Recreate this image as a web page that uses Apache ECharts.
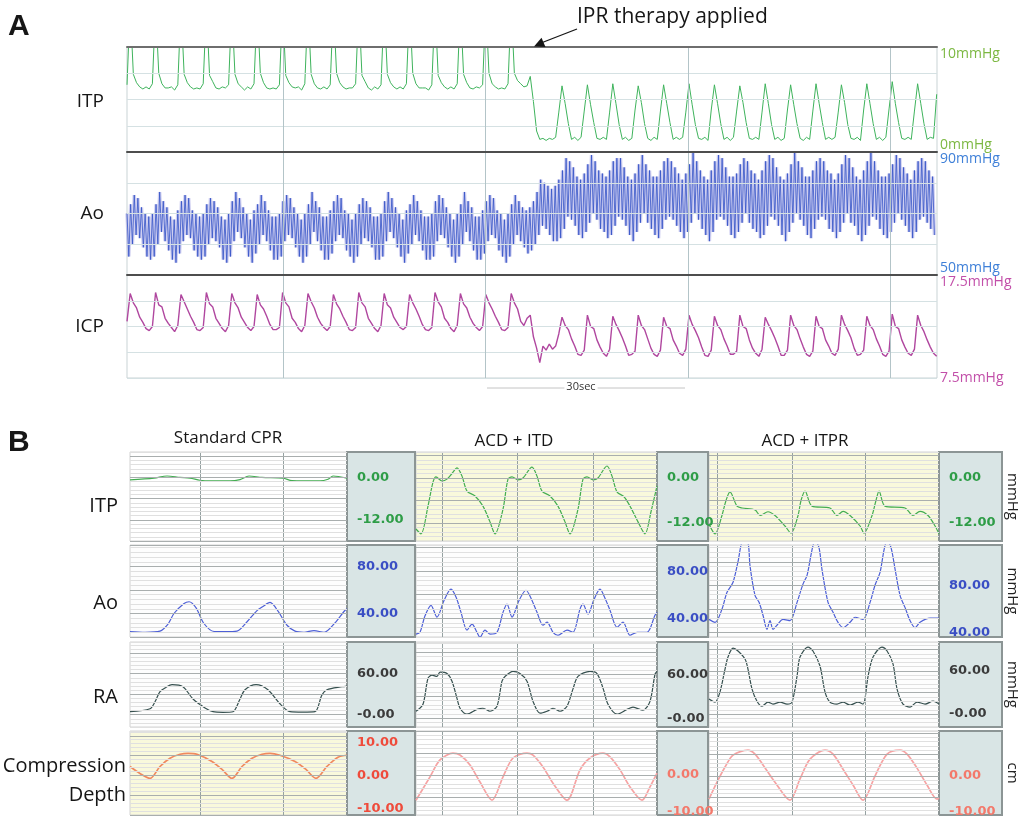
<!DOCTYPE html>
<html><head><meta charset="utf-8">
<script src="https://cdn.jsdelivr.net/npm/echarts@6/dist/echarts.min.js"></script>
<style>html,body{margin:0;padding:0;background:#fff}#c{width:1018px;height:817px}</style>
</head><body><div id="c"></div>
<script>
// ================= Panel A data =================
const aTimeMax = 120;          // seconds shown
const aSampleDt = 0.4704;      // s between ITP / ICP samples
const aBeatDt = 0.5376;        // s between compressions (Ao beats)
const aGridSec = [23.1, 53.1, 83.1, 113.1];
const itpRange = [0, 10], aoRange = [50, 90], icpRange = [7.5, 17.5];

const itpA = [6.4,
 14,7.4,6.6,6.2,6.0,6.2,6.0,6.5, 14,7.5,6.5,6.1,6.1,6.2,5.9,6.4, 14,7.4,6.6,6.2,6.0,6.1,6.0,6.5,
 14,7.3,6.7,6.1,6.0,6.2,6.1,6.4, 14,7.4,6.5,6.2,5.9,6.2,6.0,6.5, 14,7.5,6.6,6.1,6.0,6.1,6.0,6.4,
 14,7.3,6.6,6.2,6.1,6.2,5.9,6.5, 14,7.4,6.5,6.1,6.0,6.2,6.0,6.4, 14,7.5,6.6,6.2,6.0,6.1,6.1,6.5,
 14,7.3,6.7,6.1,5.9,6.2,6.0,6.4, 14,7.4,6.6,6.2,6.0,6.2,6.0,6.5, 14,7.5,6.5,6.1,6.1,6.1,5.9,6.4,
 14,7.3,6.6,6.2,6.0,6.2,6.0,6.5, 14,7.4,6.6,6.1,6.0,6.2,6.1,6.4, 14,7.5,6.5,6.2,6.0,6.1,6.0,6.5,
 14,
 7.5,6.8,6.5,6.2,6.3,7.2,4.8,2.0,1.2,1.3,1.1,1.3,1.2,1.4,3.8,
 6.3,4.6,2.7,1.2,1.4,1.1,1.4,3.9, 6.4,4.5,2.8,1.3,1.2,1.4,1.2,3.8, 6.5,4.6,2.6,1.2,1.4,1.1,1.3,4.0,
 6.3,4.7,2.7,1.3,1.1,1.4,1.2,3.9, 6.4,4.6,2.8,1.2,1.4,1.2,1.4,3.8, 6.5,4.5,2.6,1.3,1.2,1.4,1.1,4.0,
 6.4,4.6,2.7,1.2,1.4,1.1,1.4,3.9, 6.3,4.7,2.8,1.3,1.2,1.4,1.2,3.8, 6.5,4.6,2.6,1.2,1.4,1.1,1.3,4.0,
 6.4,4.5,2.7,1.3,1.1,1.4,1.2,3.9, 6.5,4.6,2.8,1.2,1.4,1.2,1.4,3.8, 6.4,4.7,2.6,1.3,1.2,1.4,1.1,4.0,
 6.5,4.6,2.7,1.2,1.4,1.1,1.4,4.1, 6.7,4.6,2.8,1.3,1.2,1.4,1.2,3.9,
 6.5,4.6,2.7,1.2,1.4,1.3,5.5];

const icpA = [13.0,
 15.7,14.8,14.3,13.4,12.9,12.3,12.1,12.5, 15.8,14.6,14.4,13.3,12.8,12.4,12.0,12.6, 15.6,14.9,14.2,13.5,12.9,12.2,12.1,12.4,
 15.8,14.7,14.4,13.3,12.8,12.3,12.0,12.6, 15.7,14.8,14.3,13.4,12.9,12.4,12.1,12.5, 15.6,14.6,14.2,13.5,12.7,12.2,12.2,12.4,
 15.8,14.8,14.4,13.3,12.9,12.3,12.0,12.6, 15.7,14.9,14.3,13.4,12.8,12.4,12.1,12.5, 15.6,14.7,14.2,13.5,12.9,12.2,12.1,12.4,
 15.8,14.8,14.4,13.3,12.8,12.3,12.0,12.6, 15.7,14.6,14.3,13.4,12.9,12.4,12.2,12.5, 15.6,14.8,14.2,13.5,12.7,12.2,12.1,12.4,
 15.8,14.9,14.4,13.3,12.9,12.3,12.0,12.6, 15.7,14.7,14.3,13.4,12.8,12.4,12.1,12.5, 15.6,14.8,14.2,13.5,12.9,12.2,12.1,12.4,
 15.7,
 14.8,14.2,13.0,12.6,13.3,13.6,11.5,10.4,9.0,10.6,10.2,10.8,10.3,10.6,11.8,
 13.4,12.6,12.2,11.3,10.6,9.8,9.7,10.2, 13.6,12.5,12.3,11.2,10.5,9.9,9.6,10.3, 13.5,12.7,12.1,11.4,10.6,9.7,9.8,10.1,
 13.6,12.6,12.2,11.3,10.4,9.8,9.6,10.2, 13.4,12.5,12.3,11.2,10.6,9.9,9.7,10.3, 13.6,12.7,12.1,11.4,10.5,9.7,9.6,10.2,
 13.5,12.6,12.2,11.3,10.6,9.8,9.8,10.1, 13.6,12.5,12.3,11.2,10.4,9.9,9.6,10.3, 13.4,12.7,12.1,11.4,10.6,9.7,9.7,10.2,
 13.6,12.6,12.2,11.3,10.5,9.8,9.6,10.1, 13.5,12.5,12.3,11.2,10.6,9.9,9.7,10.3, 13.6,12.7,12.1,11.4,10.4,9.7,9.8,10.2,
 13.5,12.6,12.2,11.3,10.6,9.8,9.6,10.1, 13.7,12.5,12.3,11.2,10.5,9.9,9.7,10.3,
 13.6,12.6,12.0,11.2,10.5,9.9,9.6];

const aoSys = [70,73,
 76,75,72,70,69,70,73, 77,74,72,69,68,71,74, 76,75,71,70,69,70,73, 75,74,72,69,68,70,74, 77,75,72,70,68,71,73,
 76,74,71,69,69,70,74, 76,75,72,70,68,70,73, 77,74,72,69,69,71,74, 76,75,71,70,68,70,73, 75,74,72,69,69,70,74,
 77,75,72,70,68,71,73, 76,74,71,69,69,70,74, 76,75,72,70,68,70,73, 77,74,72,69,69,71,74, 76,75,71,70,68,70,73,
 76,74,72,71,72,74,77, 81,80,79,78,79,81,84,
 88,87,85,82,81,83,86, 89,87,84,83,82,84,87, 88,88,85,82,81,83,86, 89,86,84,82,82,84,87, 88,87,85,83,81,83,86,
 90,87,84,82,81,84,87, 89,88,85,82,82,83,86, 88,87,84,83,81,84,87, 89,88,85,82,81,83,86, 90,87,85,82,82,84,87,
 88,87,84,83,81,83,86, 89,88,85,82,81,84,87, 90,87,84,82,82,83,86, 89,88,85,83,81,84,87,
 88,87,84,82];
const aoDia = [56,60,
 63,62,59,56,55,56,60, 64,61,58,55,54,57,61, 63,62,58,56,55,56,60, 62,61,59,55,54,56,61, 64,62,59,56,54,57,60,
 63,61,58,55,55,56,61, 63,62,59,56,54,56,60, 64,61,58,55,55,57,61, 63,62,58,56,54,56,60, 62,61,59,55,55,56,61,
 64,62,59,56,54,57,60, 63,61,58,55,55,56,61, 63,62,59,56,54,56,60, 64,61,58,55,55,57,61, 63,62,58,56,54,56,60,
 63,61,59,57,58,60,63, 66,65,63,61,61,62,65,
 69,68,66,63,62,64,67, 70,68,65,64,62,63,66, 69,68,66,63,61,64,67, 70,67,65,63,62,65,68, 69,68,66,64,62,64,67,
 70,68,65,63,61,64,68, 69,68,66,63,62,64,67, 70,67,65,64,62,63,66, 69,68,66,63,61,64,67, 70,68,66,63,62,65,68,
 69,68,65,64,62,64,67, 70,67,66,63,61,63,66, 69,68,65,63,62,64,67, 70,68,66,64,62,64,68,
 69,67,65,63];

// ================= Panel B data (time in ms, value in unit) =================
const bTitles = ['Standard CPR', 'ACD + ITD', 'ACD + ITPR'];
const bSpanMs = [1570, 1928, 1865];
const bGridMs = [[506, 1107], [208, 808, 1416], [65, 673, 1265]];

const b1Itp = [[0,-0.7],[174,-0.2],[268,0.4],[362,0.0],[434,-0.2],[506,-0.8],[579,-1.0],[724,-1.0],[796,-0.6],[861,0.4],[955,0.0],[1107,-0.2],[1172,-0.9],[1375,-1.0],[1433,-0.5],[1469,0.4],[1570,-0.2]];
const b1Ao = [[0,24.7],[109,24.0],[217,25.0],[275,31],[318,40],[391,48.5],[427,50],[477,45],[535,31.5],[608,24.7],[687,24.5],[774,25],[847,33],[919,42.5],[962,46],[1013,49.4],[1071,42],[1136,30],[1194,25],[1259,24],[1331,25.5],[1404,24],[1483,32],[1548,41.7],[1570,44]];
const b1Ra = [[0,4.4],[145,8.8],[181,19],[217,33.7],[260,40],[304,44],[383,41],[456,23],[543,10],[601,4.4],[673,3.5],[745,4.4],[796,23],[832,36.6],[912,44],[998,36.6],[1085,16],[1158,4.4],[1248,3.8],[1338,4.4],[1389,29],[1425,36.6],[1534,41],[1570,42]];
const b1Comp = [[0,2.7],[72,0.6],[145,-0.9],[217,2.7],[289,5.2],[362,6.4],[420,6.7],[485,6.4],[593,4.2],[666,1.8],[738,-0.9],[810,2.7],[883,5.2],[955,6.4],[1013,6.7],[1085,6.1],[1194,4.2],[1273,1.8],[1346,-0.9],[1425,2.7],[1505,5.5],[1570,6.1]];

const b2Itp = [[0,-13.6],[40,-14.9],[96,-7.5],[136,-1.1],[160,0.3],[208,-0.8],[248,-0.3],[288,1.2],[328,2.7],[368,0.5],[408,-3.5],[472,-4.8],[536,-7.5],[592,-11.7],[632,-14.9],[696,-8.3],[736,-0.3],[768,0.3],[816,-0.5],[856,0.0],[928,2.9],[968,0.5],[1008,-3.5],[1072,-4.8],[1136,-7.5],[1192,-11.7],[1232,-14.9],[1296,-8.3],[1336,-0.3],[1368,0.3],[1416,-0.5],[1456,0.0],[1528,3.2],[1568,0.5],[1608,-3.7],[1664,-5.0],[1712,-7.5],[1776,-11.7],[1832,-14.9],[1880,-9],[1928,-2.1]];
const b2Ao = [[0,26.4],[32,28],[72,42],[120,51],[168,40.9],[224,55],[280,64.7],[320,58],[360,45],[408,29.8],[448,35],[488,28],[512,23.8],[552,29.8],[592,26.4],[648,28],[696,45],[728,52],[768,40.9],[824,55],[880,63.8],[920,57],[968,45],[1016,34],[1048,36.6],[1096,28],[1136,25.5],[1208,29.8],[1256,28],[1312,47.7],[1336,52],[1376,43.4],[1424,56],[1472,64.7],[1512,57],[1552,46.8],[1608,32.3],[1656,36.6],[1712,25.5],[1768,28],[1848,28],[1912,42.6],[1928,45]];
const b2Ra = [[0,9.5],[56,19],[96,54.6],[128,58.7],[168,57],[192,62.8],[248,61],[288,50.5],[328,27],[352,13.6],[408,5.5],[488,12],[536,13.6],[592,9.5],[648,16.4],[688,50.5],[712,57],[776,64],[832,61],[888,50.5],[936,23],[992,6.8],[1048,9.5],[1096,13.6],[1152,9.5],[1208,16.4],[1256,40],[1296,57],[1392,64],[1448,61],[1496,41],[1536,19],[1608,5.5],[1688,12],[1736,15],[1816,10.9],[1872,23],[1912,60],[1928,64]];
const b2Comp = [[0,-6.8],[112,-0.5],[192,4.1],[296,5.9],[352,5.4],[432,2.7],[512,-1.9],[608,-6.8],[696,-0.5],[776,4.6],[888,5.9],[936,5.4],[1016,2.2],[1096,-2.2],[1208,-6.8],[1312,1.4],[1392,4.6],[1496,5.9],[1552,4.9],[1632,1.4],[1712,-3.2],[1808,-6.8],[1872,-3.2],[1928,0.5]];

const b3Itp = [[0,-12.3],[49,-14.9],[105,-10],[138,-6],[170,-3.7],[227,-7.5],[268,-8.0],[373,-8.5],[414,-10],[478,-9],[535,-10],[616,-12.8],[665,-14.7],[722,-10],[746,-6],[779,-3.5],[835,-7.5],[981,-8.0],[1038,-10],[1087,-8.9],[1144,-10],[1225,-12.8],[1257,-14.7],[1322,-10],[1354,-6],[1379,-3.5],[1427,-7.5],[1590,-8.0],[1654,-10],[1711,-8.9],[1776,-10],[1833,-12.8],[1865,-14.9]];
const b3Ao = [[0,51],[49,48.5],[105,59.6],[146,74],[195,82.6],[235,100],[276,118],[316,116],[332,97],[373,71.5],[406,65.5],[438,54.5],[470,42.5],[495,50],[519,42.5],[551,46],[600,51],[657,50],[714,65.5],[762,81],[795,88.5],[835,110],[860,118],[892,112],[916,93.6],[965,65.5],[1006,57],[1046,48.5],[1087,44],[1144,48.5],[1184,52.8],[1249,51],[1306,65.5],[1346,80],[1387,91],[1419,110],[1444,118],[1476,112],[1509,93.6],[1549,71.5],[1590,61],[1630,50],[1671,44],[1711,48.5],[1792,52],[1865,52]];
const b3Ra = [[0,21],[49,16.7],[89,30.7],[130,62.8],[154,79.5],[195,92],[235,88],[292,76.7],[316,62.8],[349,34.9],[389,18],[430,11],[478,16.7],[519,14],[576,16.7],[633,14],[673,16.7],[714,53],[738,79.5],[803,93.4],[843,88],[900,67],[941,30.7],[981,16.7],[1038,14],[1087,16.7],[1144,12.5],[1208,16.7],[1249,14],[1290,53],[1330,79.5],[1403,93.4],[1444,88],[1492,70],[1525,34.9],[1573,14],[1630,9.8],[1687,16.7],[1752,14],[1817,18],[1865,14]];
const b3Comp = [[0,-6.4],[65,-1.7],[130,2.5],[195,5.8],[316,7.2],[373,6.1],[438,3.1],[535,-1.7],[657,-6.7],[738,-0.8],[819,4.7],[941,7.2],[1006,6.1],[1087,1.9],[1168,-2.5],[1249,-6.7],[1346,0.0],[1444,6.1],[1549,7.2],[1606,6.1],[1687,2.2],[1768,-2.5],[1849,-6.4],[1865,-6.1]];

const bItpRange = [[-18, 7.2], [-16.8, 6.93], [-16.8, 6.93]];
const bAoRange = [[20, 98.3], [24, 102.3], [36, 114.3]];
const bRaRange = [[-18, 106.5], [-12, 104], [-18, 100.5]];
const bCompRange = [[-12, 13.45], [-10.8, 11.9], [-10.8, 12.5]];

const itpTicks = [0, -12], itpTickText = ['0.00', '-12.00'];
const aoTicks = [80, 40], aoTickText = ['80.00', '40.00'];
const raTicks = [60, 0], raTickText = ['60.00', '-0.00'];
const compTicks = [[10, 0, -10], [0, -10], [0, -10]];
const compTickText = [['10.00', '0.00', '-10.00'], ['0.00', '-10.00'], ['0.00', '-10.00']];

// ================= build =================
const chart = echarts.init(document.getElementById('c'), null, {renderer: 'canvas'});
const grid = [], xAxis = [], yAxis = [], series = [];
const FONT = 'Open Sans';
const vLines = (times, color) => ({silent: true, symbol: ['none', 'none'], label: {show: false}, animation: false,
  lineStyle: {color: color, width: 1, type: 'solid'}, data: times.map(t => ({xAxis: t}))});

// ---- Panel A ----
const aoData = [];
aoSys.forEach((s, i) => { aoData.push([i * aBeatDt, s]); aoData.push([(i + 0.5) * aBeatDt, aoDia[i]]); });
const aSpec = [
  {range: itpRange, interval: 2.5, line: '#3fb35c', label: '#7cb842', data: itpA.map((v, i) => [i * aSampleDt, v]), top: 47, h: 105, minAlign: 'bottom', maxAlign: 'top', lw: 1},
  {range: aoRange, interval: 10, line: '#3453c6', label: '#3f80d8', data: aoData, top: 152, h: 123, minAlign: 'bottom', maxAlign: 'top', lw: 0.8},
  {range: icpRange, interval: 2.5, line: '#b0479f', label: '#c24fa9', data: icpA.map((v, i) => [i * aSampleDt, v]), top: 275, h: 103, minAlign: 'middle', maxAlign: 'top', lw: 1.4}
];
aSpec.forEach((s, k) => {
  grid.push({left: 127, top: s.top, width: 810, height: s.h, show: true, outerBoundsMode: 'none', containLabel: false,
    backgroundColor: '#ffffff', borderColor: '#c9d3d5', borderWidth: 1});
  xAxis.push({gridIndex: k, type: 'value', min: 0, max: aTimeMax, position: 'top', z: 5,
    axisLine: {show: true, onZero: false, lineStyle: {color: k === 0 ? '#6e6e6e' : '#4e4e4e', width: 2}},
    axisTick: {show: false}, axisLabel: {show: false}, splitLine: {show: false}});
  yAxis.push({gridIndex: k, type: 'value', min: s.range[0], max: s.range[1], interval: s.interval, position: 'right', z: 5,
    axisLine: {show: false}, axisTick: {show: false},
    splitLine: {show: true, lineStyle: {color: '#d5e1e3', width: 1}},
    axisLabel: {customValues: [s.range[0], s.range[1]], formatter: v => v + 'mmHg', color: s.label,
      fontFamily: FONT, fontSize: 14, margin: 3, verticalAlignMinLabel: s.minAlign, verticalAlignMaxLabel: s.maxAlign}});
  if (k === 1) {
    // soft lavender halo under the aortic pressure strokes
    series.push({type: 'line', xAxisIndex: 1, yAxisIndex: 1, data: aoData, showSymbol: false, silent: true,
      lineStyle: {color: 'rgba(160,160,228,0.5)', width: 3.4}, animation: false, z: 2});
  }
  series.push({type: 'line', xAxisIndex: k, yAxisIndex: k, data: s.data, showSymbol: false, smooth: false,
    lineStyle: {color: s.line, width: s.lw}, animation: false, z: 3, markLine: vLines(aGridSec, '#b3c4c8')});
});

// ---- Panel B ----
const colLeft = [130, 416, 709], colW = [217, 241, 230];
const rowTop = [452, 545, 642, 731], rowH = [89, 92, 85, 84];
const boxX = [347, 657, 939], boxW = [68, 51, 63];
const YEL = '#f9f9dc';
const bRows = [
  {data: [b1Itp, b2Itp, b3Itp], ranges: bItpRange, minor: 1.2, majorRef: 0, ticks: [itpTicks, itpTicks, itpTicks], text: [itpTickText, itpTickText, itpTickText],
   line: ['#44ad52', '#44ad52', '#44ad52'], label: ['#2e9d47', '#2e9d47', '#2e9d47'], bg: ['#ffffff', YEL, YEL], unit: 'mmHg', lw: 1.2},
  {data: [b1Ao, b2Ao, b3Ao], ranges: bAoRange, minor: 4, majorRef: 40, ticks: [aoTicks, aoTicks, aoTicks], text: [aoTickText, aoTickText, aoTickText],
   line: ['#4d5fd6', '#4d5fd6', '#4d5fd6'], label: ['#3a4ec4', '#3a4ec4', '#3a4ec4'], bg: ['#fdfdfd', '#fdfdfd', '#fdfdfd'], unit: 'mmHg', lw: 1.2},
  {data: [b1Ra, b2Ra, b3Ra], ranges: bRaRange, minor: 6, majorRef: 0, ticks: [raTicks, raTicks, raTicks], text: [raTickText, raTickText, raTickText],
   line: ['#36504f', '#36504f', '#36504f'], label: ['#3b3b3b', '#3b3b3b', '#3b3b3b'], bg: ['#fdfdfd', '#fdfdfd', '#fdfdfd'], unit: 'mmHg', lw: 1.2},
  {data: [b1Comp, b2Comp, b3Comp], ranges: bCompRange, minor: 1.2, majorRef: 0, ticks: compTicks, text: compTickText,
   line: ['#f0895f', '#f6a3a3', '#f6a3a3'], label: ['#ef4b3b', '#f3796b', '#f3796b'], bg: [YEL, '#ffffff', '#ffffff'], unit: 'cm', lw: 1.7}
];
const graphics = [];
bRows.forEach((row, r) => {
  for (let c = 0; c < 3; c++) {
    const gi = grid.length;
    const [mn, mx] = row.ranges[c];
    grid.push({left: colLeft[c], top: rowTop[r], width: colW[c], height: rowH[r], show: true, outerBoundsMode: 'none', containLabel: false,
      backgroundColor: row.bg[c], borderColor: '#d2d2d2', borderWidth: 1});
    xAxis.push({gridIndex: gi, type: 'value', min: 0, max: bSpanMs[c], show: false});
    const n = Math.round((row.majorRef - mn) / row.minor);
    const idx = ((n % 5) + 5) % 5;
    const cols = ['#e0e0e0', '#e0e0e0', '#e0e0e0', '#e0e0e0', '#e0e0e0'];
    cols[idx] = '#a9aeae';
    const ticks = row.ticks[c], text = row.text[c];
    const ya = {gridIndex: gi, type: 'value', min: mn, max: mx, interval: row.minor, position: 'right', z: 10,
      axisLine: {show: false}, axisTick: {show: false},
      splitLine: {show: true, lineStyle: {color: cols, width: 1}},
      axisLabel: {customValues: ticks, formatter: v => text[ticks.indexOf(v)], color: row.label[c],
        fontFamily: 'DejaVu Sans', fontWeight: 'bold', fontSize: 13, margin: 10, align: 'left'}};
    if (c === 2) {
      ya.name = row.unit; ya.nameLocation = 'middle'; ya.nameRotate = -90; ya.nameGap = 66;
      ya.nameTextStyle = {fontFamily: FONT, fontSize: 15, color: '#222'};
    }
    yAxis.push(ya);
    series.push({type: 'line', xAxisIndex: gi, yAxisIndex: gi, data: row.data[c], showSymbol: false, smooth: 0.3,
      lineStyle: {color: row.line[c], width: row.lw}, animation: false, z: 3, markLine: vLines(bGridMs[c], '#95a1a1')});
    graphics.push({type: 'rect', z: 1, shape: {x: boxX[c], y: rowTop[r], width: boxW[c], height: rowH[r]},
      style: {fill: '#d9e5e5', stroke: '#8c9595', lineWidth: 2}});
  }
});

// ---- texts / annotations ----
const txt = (t, x, y, font, align, fill) => ({type: 'text', z: 20, x: x, y: y,
  style: {text: t, font: font, textAlign: align || 'left', textVerticalAlign: 'middle', fill: fill || '#161616'}});
graphics.push(txt('A', 8, 27, 'bold 30px "Liberation Sans"'));
graphics.push(txt('B', 8, 443, 'bold 30px "Liberation Sans"'));
graphics.push(txt('IPR therapy applied', 577, 17, '21px "Open Sans"'));
graphics.push({type: 'line', z: 20, shape: {x1: 577, y1: 29, x2: 541, y2: 43}, style: {stroke: '#161616', lineWidth: 1.3}});
graphics.push({type: 'polygon', z: 20, shape: {points: [[534, 46.5], [545.5, 47], [541.5, 37.8]]}, style: {fill: '#161616'}});
graphics.push(txt('ITP', 104, 102, '19px "Open Sans"', 'right'));
graphics.push(txt('Ao', 104, 214, '19px "Open Sans"', 'right'));
graphics.push(txt('ICP', 104, 327, '19px "Open Sans"', 'right'));
graphics.push({type: 'line', z: 20, shape: {x1: 487, y1: 388, x2: 685, y2: 388}, style: {stroke: '#c4c4c4', lineWidth: 1}});
graphics.push({type: 'text', z: 21, x: 581, y: 387, style: {text: '30sec', font: '11px "Open Sans"', textAlign: 'center', textVerticalAlign: 'middle', fill: '#333', backgroundColor: '#fff', padding: [0, 2]}});
graphics.push(txt(bTitles[0], 228, 438, '17px "Open Sans"', 'center'));
graphics.push(txt(bTitles[1], 514, 441, '17px "Open Sans"', 'center'));
graphics.push(txt(bTitles[2], 805, 441, '17px "Open Sans"', 'center'));
graphics.push(txt('ITP', 118, 506, '20px "Open Sans"', 'right'));
graphics.push(txt('Ao', 118, 603, '20px "Open Sans"', 'right'));
graphics.push(txt('RA', 118, 697, '20px "Open Sans"', 'right'));
graphics.push(txt('Compression', 126, 766, '20px "Open Sans"', 'right'));
graphics.push(txt('Depth', 126, 795, '20px "Open Sans"', 'right'));

chart.setOption({backgroundColor: '#ffffff', animation: false, grid, xAxis, yAxis, series, graphic: {elements: graphics}});
</script></body></html>
